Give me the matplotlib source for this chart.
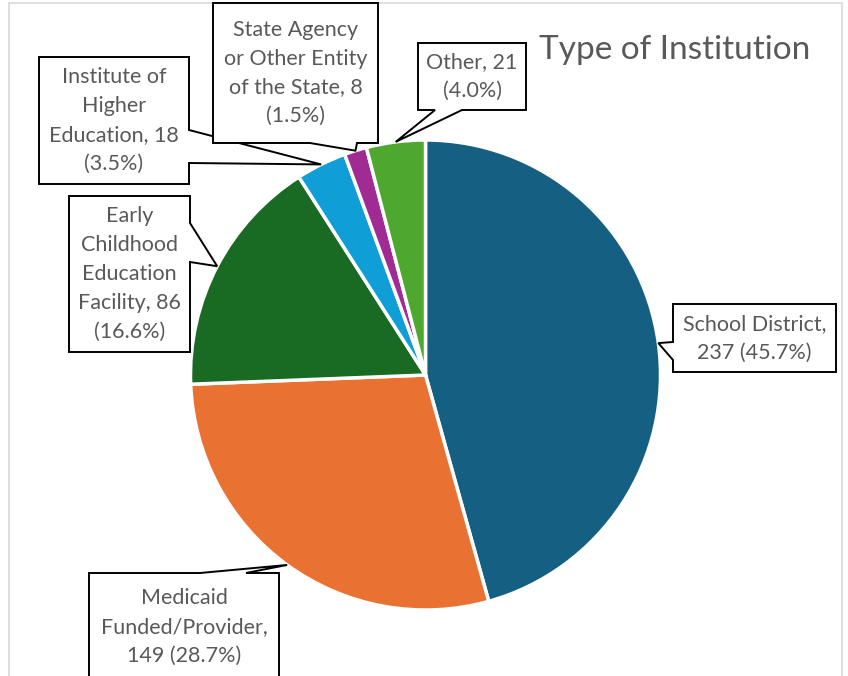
import matplotlib.pyplot as plt
from matplotlib.patches import Polygon, Rectangle
import numpy as np

# datos del grafico
categorias = ["School District", "Medicaid Funded/Provider",
              "Early Childhood Education Facility", "Institute of Higher Education",
              "State Agency or Other Entity of the State", "Other"]
valores = [237, 149, 86, 18, 8, 21]
etiquetas = ["School District,\n237 (45.7%)",
             "Medicaid\nFunded/Provider,\n149 (28.7%)",
             "Early\nChildhood\nEducation\nFacility, 86\n(16.6%)",
             "Institute of\nHigher\nEducation, 18\n(3.5%)",
             "State Agency\nor Other Entity\nof the State, 8\n(1.5%)",
             "Other, 21\n(4.0%)"]
colores = ["#156082", "#E97132", "#196B24", "#0F9ED5", "#A02B93", "#4EA72E"]
titulo = "Type of Institution"

W, H = 848, 676
fig = plt.figure(figsize=(W / 100, H / 100), dpi=100)
ax = fig.add_axes([0, 0, 1, 1])

def Y(py):
    return H - py

# pie en coordenadas de pixel
cx, cy, r = 425.5, 375, 235
wedges, _ = ax.pie(valores, colors=colores, startangle=90, counterclock=False,
                   center=(cx, Y(cy)), radius=r,
                   wedgeprops=dict(edgecolor="white", linewidth=2.5))

# cajas de las etiquetas: (x0, y0, x1, y1), lado, base1, base2
cajas = [
    ((673, 304, 836, 372), "left", 342, 360),
    ((89, 573, 279, 681), "top", 200, 246),
    ((69, 196, 190, 352), "right", 223, 262),
    ((39, 57, 189, 184), "right", 130, 163),
    ((213, 3, 378, 143), "bottom", 310, 357),
    ((418, 43, 526, 110), "bottom", 435, 462),
]

for w, (caja, lado, b1, b2), texto in zip(wedges, cajas, etiquetas):
    ang = np.deg2rad((w.theta1 + w.theta2) / 2)
    tip = (w.center[0] + w.r * np.cos(ang), w.center[1] + w.r * np.sin(ang))
    x0, y0, x1, y1 = caja
    if lado == "top":
        pts = [(x0, y0), (b1, y0), None, (b2, y0), (x1, y0), (x1, y1), (x0, y1)]
    elif lado == "right":
        pts = [(x0, y0), (x1, y0), (x1, b1), None, (x1, b2), (x1, y1), (x0, y1)]
    elif lado == "bottom":
        pts = [(x0, y0), (x1, y0), (x1, y1), (b2, y1), None, (b1, y1), (x0, y1)]
    else:
        pts = [(x0, y0), (x1, y0), (x1, y1), (x0, y1), (x0, b2), None, (x0, b1)]
    verts = [tip if p is None else (p[0], Y(p[1])) for p in pts]
    ax.add_patch(Polygon(verts, closed=True, facecolor="white", edgecolor="black",
                         linewidth=1.4, zorder=5))
    ax.text((x0 + x1) / 2, Y((y0 + y1) / 2), texto, ha="center", va="center",
            fontsize=15.5, family="Lato", color="#595959", linespacing=1.55, zorder=6)

ax.text(675, Y(50), titulo, ha="center", va="center", fontsize=24,
        family="Lato", color="#595959")

# borde del area del grafico
ax.add_patch(Rectangle((9, Y(700)), 833, 697, facecolor="none",
                       edgecolor="#D9D9D9", linewidth=1.2, zorder=0))

ax.set_xlim(0, W)
ax.set_ylim(0, H)
ax.set_aspect("equal")
ax.axis("off")
plt.savefig("out.png", dpi=100)
